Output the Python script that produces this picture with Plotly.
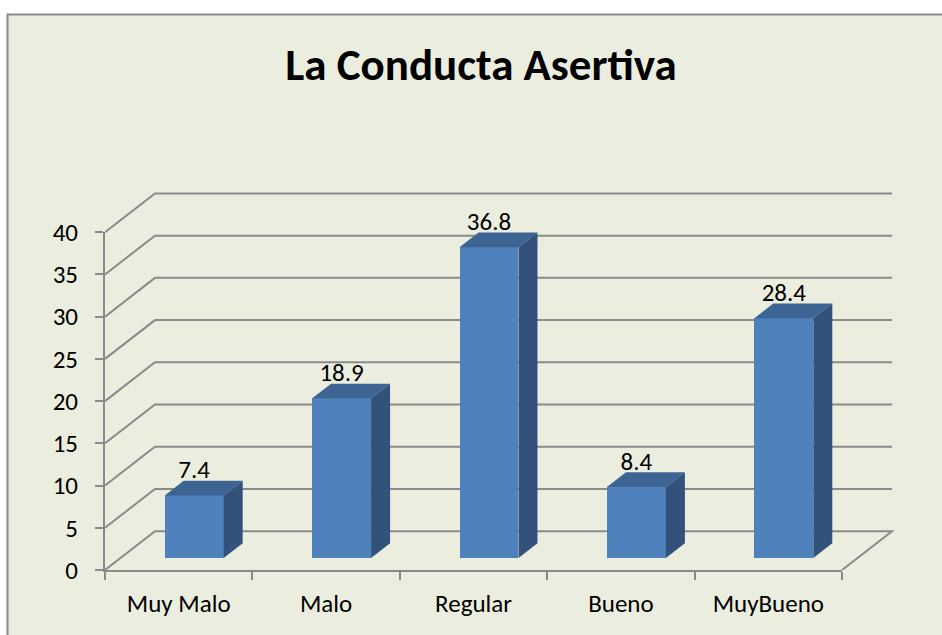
import plotly.graph_objects as go

# ---------------- data ----------------
categories = ["Muy Malo", "Malo", "Regular", "Bueno", "MuyBueno"]
values = [7.4, 18.9, 36.8, 8.4, 28.4]
y_ticks = [0, 5, 10, 15, 20, 25, 30, 35, 40]
title_text = "La Conducta Asertiva"

# ---------------- style ----------------
BG = "#EBEEDF"
GRID = "#8A8A8A"
FRONT = "#4F81BD"
TOP = "#3C6594"
SIDE = "#32527C"
FONT = "Carlito, Open Sans, Lato, sans-serif"
FS = 25

W, H = 942, 635
ML, MR, MT, MB = 105, 41, 190, 65
XMAX, YMAX = 5.4, 45.0          # main (hidden) axis ranges
DX, DY = 0.339, 4.595           # depth offset of floor / back wall, in axis units
F0, F1 = 0.31, 0.69             # bar front / back depth fractions
HALF = 0.2                      # half bar width (category units)
LABEL_SHIFT = 0.45              # small downward nudge of value labels (axis units)

n = len(categories)
ymax_val = y_ticks[-1]
pw, ph = W - ML - MR, H - MT - MB

fig = go.Figure()

# background panel with border (paper coords)
fig.add_shape(type="rect", xref="paper", yref="paper",
              x0=(7.5 - ML) / pw, x1=(1000 - ML) / pw,
              y0=-(700 - (H - MB)) / ph, y1=((H - MB) - 14.5) / ph,
              fillcolor=BG, line=dict(color="#8A8A8A", width=2), layer="below")

# side wall / back wall gridlines and floor
for v in y_ticks:
    if v == 0:
        xs = [0, DX, n + DX, n]
        ys = [0, DY, DY, 0]
    else:
        xs = [0, DX, n + DX]
        ys = [v, v + DY, v + DY]
    path = "M " + " L ".join(f"{x},{y}" for x, y in zip(xs, ys))
    fig.add_shape(type="path", xref="x", yref="y", path=path,
                  line=dict(color=GRID, width=2), layer="below")

# bar front faces
xc = [i + 0.5 + F0 * DX for i in range(n)]
fig.add_trace(go.Bar(x=xc, y=values, base=F0 * DY, width=2 * HALF,
                     marker=dict(color=FRONT, line=dict(width=0)),
                     hoverinfo="skip", showlegend=False))

# bar top and side faces
ddx, ddy = (F1 - F0) * DX, (F1 - F0) * DY
for x, v in zip(xc, values):
    xl, xr = x - HALF, x + HALF
    b = F0 * DY
    t = b + v
    fig.add_trace(go.Scatter(x=[xl, xr, xr + ddx, xl + ddx, xl],
                             y=[t, t, t + ddy, t + ddy, t],
                             fill="toself", fillcolor=TOP, mode="lines",
                             line=dict(width=0, color=TOP),
                             hoverinfo="skip", showlegend=False))
    fig.add_trace(go.Scatter(x=[xr, xr + ddx, xr + ddx, xr, xr],
                             y=[b, b + ddy, t + ddy, t, b],
                             fill="toself", fillcolor=SIDE, mode="lines",
                             line=dict(width=0, color=SIDE),
                             hoverinfo="skip", showlegend=False))

# value labels
fig.add_trace(go.Scatter(x=xc, y=[v + F1 * DY - LABEL_SHIFT for v in values], mode="text",
                         text=[f"{v:.1f}" for v in values],
                         textposition="top center",
                         textfont=dict(family=FONT, size=FS, color="black"),
                         hoverinfo="skip", showlegend=False, cliponaxis=False))

# dummy trace for the visible front axes
fig.add_trace(go.Scatter(x=[None], y=[None], xaxis="x2", yaxis="y2",
                         showlegend=False, hoverinfo="skip"))

fig.update_layout(
    width=W, height=H, autosize=False,
    margin=dict(l=ML, r=MR, t=MT, b=MB, pad=0),
    paper_bgcolor="white", plot_bgcolor="rgba(0,0,0,0)",
    title=dict(text=f"<b>{title_text}</b>", x=481 / W, xanchor="center", xref="container",
               y=1 - 64 / H, yanchor="middle", yref="container",
               font=dict(family=FONT, size=45, color="black")),
    xaxis=dict(domain=[0, 1], range=[0, XMAX], visible=False, fixedrange=True),
    yaxis=dict(domain=[0, 1], range=[0, YMAX], visible=False, fixedrange=True),
    xaxis2=dict(domain=[0, n / XMAX], range=[0, n], anchor="y2",
                showline=True, linecolor=GRID, linewidth=2,
                showgrid=False, zeroline=False,
                tickmode="array", tickvals=[i + 0.5 for i in range(n)], ticktext=categories,
                ticks="", ticklabelstandoff=10,
                minor=dict(tickmode="array", tickvals=list(range(n + 1)), ticks="outside",
                           ticklen=8, tickwidth=2, tickcolor=GRID, showgrid=False),
                tickfont=dict(family=FONT, size=FS, color="black")),
    yaxis2=dict(domain=[0, ymax_val / YMAX], range=[0, ymax_val], anchor="x2",
                showline=True, linecolor=GRID, linewidth=2,
                showgrid=False, zeroline=False,
                tickmode="array", tickvals=y_ticks,
                ticks="outside", ticklen=8, tickwidth=2, tickcolor=GRID,
                ticklabelstandoff=12,
                tickfont=dict(family=FONT, size=FS, color="black")),
    bargap=0,
)

fig.write_html("out.html", config={"displayModeBar": False, "staticPlot": True},
               post_script="document.body.style.margin='0';document.body.style.overflow='hidden';")
